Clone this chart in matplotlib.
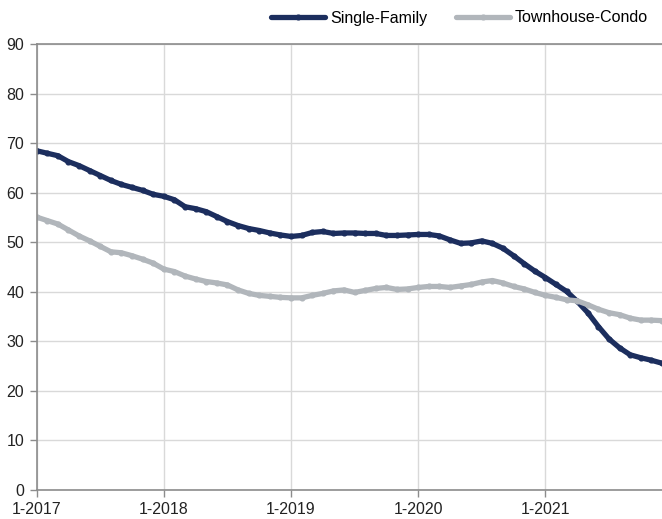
import matplotlib
matplotlib.use("Agg")
import matplotlib.pyplot as plt
import numpy as np

# monthly values, Jan 2017 .. Dec 2021
single_family = [
    68.5, 68.0, 67.5, 66.3, 65.5, 64.5, 63.5, 62.5, 61.7, 61.1, 60.5, 59.7,
    59.3, 58.6, 57.2, 56.8, 56.2, 55.2, 54.2, 53.4, 52.8, 52.4, 51.9, 51.5,
    51.2, 51.4, 52.0, 52.2, 51.8, 51.9, 51.9, 51.8, 51.8, 51.4, 51.4, 51.5,
    51.6, 51.6, 51.3, 50.5, 49.8, 49.9, 50.3, 49.8, 48.8, 47.3, 45.7, 44.2,
    42.9, 41.5, 40.1, 38.1, 35.8, 33.0, 30.5, 28.7, 27.3, 26.7, 26.2, 25.6,
]
townhouse_condo = [
    55.1, 54.4, 53.7, 52.5, 51.3, 50.3, 49.2, 48.1, 47.9, 47.3, 46.6, 45.8,
    44.6, 44.1, 43.2, 42.6, 42.1, 41.8, 41.4, 40.4, 39.7, 39.3, 39.1, 38.9,
    38.8, 38.8, 39.3, 39.7, 40.2, 40.4, 39.9, 40.3, 40.7, 40.9, 40.5, 40.6,
    40.9, 41.1, 41.1, 40.9, 41.2, 41.5, 42.0, 42.3, 41.8, 41.1, 40.6, 39.9,
    39.3, 38.9, 38.4, 38.2, 37.4, 36.5, 35.8, 35.4, 34.7, 34.3, 34.3, 34.2,
]
tick_labels = ["1-2017", "1-2018", "1-2019", "1-2020", "1-2021"]

plt.rcParams['font.family'] = ['Liberation Sans', 'DejaVu Sans']

fig = plt.figure(figsize=(6.62, 5.19), dpi=100)
ax = fig.add_axes([36.7 / 662, 1 - 490 / 519, 1 - 36.7 / 662, (490 - 44.3) / 519])

months = np.arange(len(single_family))
ax.plot(months, single_family, color='#1c2e5e', lw=3.8, marker='o', ms=3.4,
        label='Single-Family', solid_capstyle='round', solid_joinstyle='round')
ax.plot(months, townhouse_condo, color='#b1b6bb', lw=3.8, marker='o', ms=3.4,
        label='Townhouse-Condo', solid_capstyle='round', solid_joinstyle='round')

ax.set_xlim(0, 59)
ax.set_ylim(0, 90)
ax.set_yticks(range(0, 91, 10))
ax.set_xticks(range(0, 60, 12))
ax.set_xticklabels(tick_labels)
ax.grid(True, color='#d9d9d9', lw=1)
ax.set_axisbelow(True)

ax.spines['right'].set_visible(False)
for side in ['left', 'bottom', 'top']:
    ax.spines[side].set_color('#8c8c8c')
    ax.spines[side].set_linewidth(1.2)

ax.tick_params(axis='both', labelsize=11.5, colors='#8c8c8c', labelcolor='#222222',
               length=5, width=1, pad=4)

handles, labels = ax.get_legend_handles_labels()
fig.legend(handles, labels, loc='center right', bbox_to_anchor=(648 / 662, 1 - 18 / 519),
           ncol=2, frameon=False, fontsize=11.5, handlelength=3.4, handletextpad=0.3,
           columnspacing=1.8, borderpad=0, borderaxespad=0, numpoints=1)

fig.savefig('out.png', dpi=100)
